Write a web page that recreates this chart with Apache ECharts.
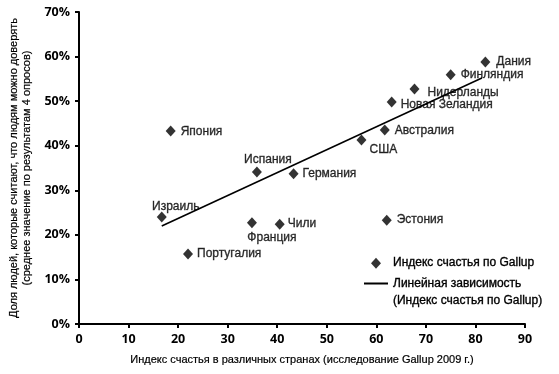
<!DOCTYPE html>
<html>
<head>
<meta charset="utf-8">
<script src="https://cdn.jsdelivr.net/npm/echarts@6/dist/echarts.min.js"></script>
<style>html,body{margin:0;padding:0;background:#fff;}#c{width:559px;height:374px;}</style>
</head>
<body>
<div id="c"></div>
<script>
// Data
const countries = ['Дания','Финляндия','Нидерланды','Новая Зеландия','Австралия','США','Германия','Испания','Япония','Израиль','Франция','Чили','Португалия','Эстония'];
const happiness = [82.0, 75.0, 67.7, 63.1, 61.7, 57.0, 43.3, 35.9, 18.5, 16.7, 34.9, 40.5, 22.0, 62.1];
const trust     = [58.8, 55.9, 52.7, 49.8, 43.5, 41.3, 33.7, 34.1, 43.3, 24.0, 22.7, 22.4, 15.7, 23.3];
const trendX = [16.7, 81.3];
const trendY = [22.0, 55.2];
const xTicks = [0, 10, 20, 30, 40, 50, 60, 70, 80, 90];
const yTicks = [0, 10, 20, 30, 40, 50, 60, 70];
const scatterName = 'Индекс счастья по Gallup';
const lineName = 'Линейная зависимость\n(Индекс счастья по Gallup)';
const xTitle = 'Индекс счастья в различных странах (исследование Gallup 2009 г.)';
const yTitle = 'Доля людей, которые считают, что людям можно доверять\n(среднее значение по результатам 4 опросов)';

// label placement (style only)
const labelPlace = {
  'Дания': ['left', 11, 0],
  'Финляндия': ['left', 10, 0],
  'Нидерланды': ['left', 13, 4],
  'Новая Зеландия': ['left', 9, 3],
  'Австралия': ['left', 10, 1],
  'США': ['left', 8, 10],
  'Германия': ['left', 9, 0],
  'Испания': ['center', 11, -12],
  'Япония': ['left', 10, 1],
  'Израиль': ['center', 14, -10],
  'Франция': ['center', 20, 15],
  'Чили': ['left', 8, 0],
  'Португалия': ['left', 9, 0],
  'Эстония': ['left', 10, 0]
};

const labelFont = { fontFamily: 'Liberation Sans, Arial, sans-serif', fontSize: 12, color: '#000', textBorderColor: '#000', textBorderWidth: 0.35 };
const tickFont = { fontFamily: 'Open Sans, sans-serif', fontWeight: 'bold', fontSize: 12.5, color: '#000' };

const scatterData = countries.map((n, i) => {
  const p = labelPlace[n];
  return {
    name: n,
    value: [happiness[i], trust[i]],
    label: Object.assign({ show: true, position: 'inside', align: p[0], verticalAlign: 'middle', offset: [p[1], p[2]], formatter: n }, labelFont)
  };
});
const lineData = trendX.map((x, i) => [x, trendY[i]]);

const chart = echarts.init(document.getElementById('c'), null, { renderer: 'canvas' });
chart.setOption({
  animation: false,
  backgroundColor: '#fff',
  grid: { left: 79, right: 34, top: 12, bottom: 50, containLabel: false, outerBoundsMode: 'none' },
  xAxis: {
    type: 'value', min: xTicks[0], max: xTicks[xTicks.length - 1], interval: 10,
    name: xTitle, nameLocation: 'middle', nameGap: 30,
    nameTextStyle: { fontFamily: 'Liberation Sans, Arial, sans-serif', fontSize: 11, color: '#000', textBorderColor: '#000', textBorderWidth: 0.2 },
    axisLine: { lineStyle: { color: '#000', width: 2 } },
    axisTick: { show: true, length: 4, lineStyle: { color: '#000', width: 2 } },
    axisLabel: Object.assign({ margin: 9 }, tickFont),
    splitLine: { show: false }
  },
  yAxis: {
    type: 'value', min: yTicks[0], max: yTicks[yTicks.length - 1], interval: 10,
    name: yTitle, nameLocation: 'middle', nameGap: 46, nameRotate: 90,
    nameTextStyle: { fontFamily: 'Liberation Sans, Arial, sans-serif', fontSize: 11, color: '#000', lineHeight: 13, textBorderColor: '#000', textBorderWidth: 0.2 },
    axisLine: { show: true, lineStyle: { color: '#000', width: 2 } },
    axisTick: { show: true, length: 4, lineStyle: { color: '#000', width: 2 } },
    axisLabel: Object.assign({ margin: 9, formatter: '{value}%' }, tickFont),
    splitLine: { show: false }
  },
  legend: [
    {
      data: [{ name: scatterName }], orient: 'vertical', left: 371, top: 257, padding: 0,
      itemWidth: 10, itemHeight: 11,
      textStyle: Object.assign({ padding: [0, 0, 0, 7] }, labelFont)
    },
    {
      data: [{ name: lineName }], orient: 'vertical', left: 364, top: 258, padding: 0,
      icon: 'rect', itemWidth: 24, itemHeight: 2,
      formatter: n => ' \n' + n,
      textStyle: Object.assign({ lineHeight: 17 }, labelFont)
    }
  ],
  series: [
    {
      name: scatterName, type: 'scatter', symbol: 'diamond', symbolSize: [10, 11],
      itemStyle: { color: '#000' },
      data: scatterData
    },
    {
      name: lineName, type: 'line', symbol: 'none', data: lineData,
      lineStyle: { color: '#000', width: 1.6 }, itemStyle: { color: '#000' }
    }
  ]
});
</script>
</body>
</html>
